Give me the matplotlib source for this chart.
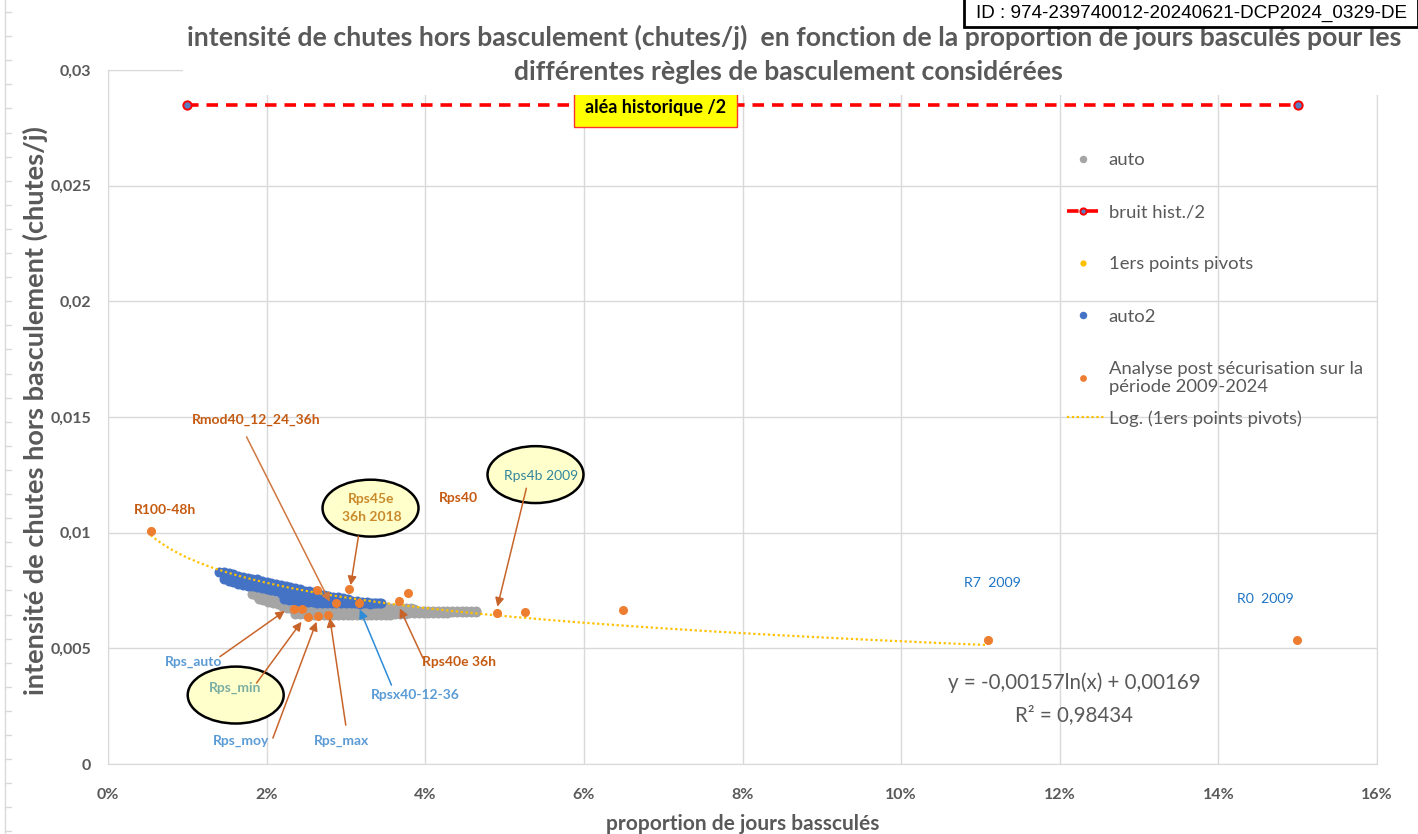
import numpy as np
import matplotlib
matplotlib.use('Agg')
import matplotlib.pyplot as plt
from matplotlib.patches import Ellipse, Rectangle
from matplotlib.lines import Line2D

plt.rcParams['font.family'] = ['Lato', 'DejaVu Sans']

# ---- data (x = proportion of days, y = chutes/j) ----
auto_x = [0.0182, 0.0188, 0.0194, 0.0200, 0.0206, 0.0212, 0.0218, 0.0224, 0.0230,
          0.0190, 0.0196, 0.0202, 0.0208, 0.0214, 0.0220, 0.0226, 0.0232,
          0.0236, 0.0242, 0.0248, 0.0254, 0.0260, 0.0266, 0.0272, 0.0278, 0.0284, 0.0290,
          0.0296, 0.0302, 0.0308, 0.0314, 0.0320, 0.0326, 0.0332, 0.0338, 0.0344, 0.0350,
          0.0236, 0.0242, 0.0248, 0.0254, 0.0260, 0.0266, 0.0272, 0.0278, 0.0284, 0.0290,
          0.0296, 0.0302, 0.0308, 0.0314, 0.0320, 0.0326, 0.0332, 0.0338, 0.0344, 0.0350, 0.0356,
          0.0346, 0.0352, 0.0358, 0.0364, 0.0370, 0.0376, 0.0382, 0.0386,
          0.0362, 0.0370, 0.0378, 0.0386,
          0.0362, 0.0368, 0.0374, 0.0380, 0.0386, 0.0392, 0.0398, 0.0404, 0.0410, 0.0416,
          0.0422, 0.0428, 0.0434, 0.0440, 0.0446, 0.0452, 0.0458, 0.0464,
          0.0392, 0.0398, 0.0404, 0.0410, 0.0416, 0.0422, 0.0428, 0.0434, 0.0440, 0.0446,
          0.0452, 0.0458, 0.0464]
auto_y = [0.00734, 0.00728, 0.00724, 0.00718, 0.00712, 0.00706, 0.00700, 0.00694, 0.00688,
          0.00712, 0.00708, 0.00702, 0.00696, 0.00690, 0.00684, 0.00676, 0.00668,
          0.00666, 0.00666, 0.00664, 0.00664, 0.00664, 0.00662, 0.00662, 0.00662, 0.00660, 0.00662,
          0.00660, 0.00660, 0.00660, 0.00658, 0.00660, 0.00658, 0.00658, 0.00658, 0.00656, 0.00658,
          0.00650, 0.00648, 0.00648, 0.00646, 0.00646, 0.00646, 0.00646, 0.00644, 0.00644, 0.00646,
          0.00644, 0.00644, 0.00644, 0.00644, 0.00644, 0.00644, 0.00644, 0.00644, 0.00644, 0.00644, 0.00646,
          0.00678, 0.00678, 0.00676, 0.00676, 0.00676, 0.00674, 0.00674, 0.00672,
          0.00664, 0.00664, 0.00664, 0.00664,
          0.00650, 0.00650, 0.00650, 0.00652, 0.00652, 0.00652, 0.00654, 0.00654, 0.00654, 0.00654,
          0.00654, 0.00654, 0.00656, 0.00656, 0.00656, 0.00656, 0.00656, 0.00656,
          0.00660, 0.00660, 0.00660, 0.00660, 0.00660, 0.00660, 0.00660, 0.00660, 0.00662, 0.00660,
          0.00660, 0.00660, 0.00660]

auto2_x = [0.0140, 0.0146, 0.0152, 0.0158, 0.0164, 0.0170, 0.0176, 0.0182, 0.0188, 0.0194,
           0.0200, 0.0206, 0.0212, 0.0218, 0.0224, 0.0230, 0.0236, 0.0242, 0.0248, 0.0254,
           0.0260, 0.0266, 0.0272, 0.0278, 0.0284, 0.0290, 0.0296, 0.0302, 0.0308, 0.0314,
           0.0320, 0.0326, 0.0332, 0.0338, 0.0344,
           0.0146, 0.0152, 0.0158, 0.0164, 0.0170, 0.0176, 0.0182, 0.0188, 0.0194, 0.0200,
           0.0206, 0.0212, 0.0218, 0.0224, 0.0230, 0.0236, 0.0242, 0.0248, 0.0254, 0.0260,
           0.0266, 0.0272, 0.0278, 0.0284,
           0.0222, 0.0228, 0.0234, 0.0240, 0.0246, 0.0252, 0.0258, 0.0264, 0.0270, 0.0276,
           0.0282, 0.0288, 0.0294, 0.0300, 0.0306, 0.0312, 0.0318, 0.0324, 0.0330, 0.0336, 0.0342]
auto2_y = [0.00830, 0.00832, 0.00826, 0.00820, 0.00812, 0.00810, 0.00806, 0.00800, 0.00798, 0.00792,
           0.00788, 0.00784, 0.00780, 0.00774, 0.00768, 0.00764, 0.00760, 0.00756, 0.00750, 0.00746,
           0.00742, 0.00736, 0.00732, 0.00728, 0.00724, 0.00720, 0.00716, 0.00712, 0.00706, 0.00704,
           0.00702, 0.00700, 0.00698, 0.00698, 0.00696,
           0.00800, 0.00792, 0.00786, 0.00776, 0.00772, 0.00770, 0.00768, 0.00766, 0.00762, 0.00758,
           0.00752, 0.00748, 0.00740, 0.00736, 0.00732, 0.00728, 0.00724, 0.00720, 0.00718, 0.00716,
           0.00712, 0.00710, 0.00706, 0.00704,
           0.00712, 0.00710, 0.00708, 0.00706, 0.00704, 0.00702, 0.00700, 0.00698, 0.00698, 0.00696,
           0.00696, 0.00694, 0.00696, 0.00694, 0.00694, 0.00694, 0.00692, 0.00694, 0.00692, 0.00694, 0.00694]

post_x = [0.0054, 0.0264, 0.0304, 0.0288, 0.0316, 0.0367, 0.0378, 0.0234, 0.0245,
          0.0252, 0.0265, 0.0278, 0.0490, 0.0526, 0.0649, 0.1109, 0.1499]
post_y = [0.01008, 0.00752, 0.00755, 0.00697, 0.00697, 0.00704, 0.00740, 0.00670, 0.00671,
          0.00634, 0.00639, 0.00642, 0.00651, 0.00658, 0.00665, 0.00536, 0.00536]

pivot_x = [0.0054, 0.0490, 0.1109]
pivot_y = [0.01008, 0.00651, 0.00536]

hist_x = [0.01, 0.15]
hist_y = [0.0285, 0.0285]

# logarithmic trend of the pivot points, as printed on the chart
log_a, log_b = -0.00157, 0.00169
log_r2 = 0.98434
log_x_range = [0.0054, 0.1109]

x_ticks = [0, 0.02, 0.04, 0.06, 0.08, 0.10, 0.12, 0.14, 0.16]
x_tick_labels = ['0%', '2%', '4%', '6%', '8%', '10%', '12%', '14%', '16%']
y_ticks = [0, 0.005, 0.01, 0.015, 0.02, 0.025, 0.03]
y_tick_labels = ['0', '0,005', '0,01', '0,015', '0,02', '0,025', '0,03']

GRAY_TXT = '#595959'
ORANGE_TXT = '#C55A11'
LBLUE_TXT = '#5B9BD5'
ARROW = '#C8642A'

W, H = 1418, 834
fig = plt.figure(figsize=(W / 100, H / 100), dpi=100)
ax = fig.add_axes([108 / W, 1 - 764 / H, (1377 - 108) / W, (764 - 70) / H])

ax.plot(auto_x, auto_y, 'o', ls='none', ms=7.2, color='#A5A5A5', mew=0, zorder=2, label='auto')
ax.plot(hist_x, hist_y, color='#FF0000', lw=2.6, dashes=(3.2, 2.2), marker='o', ms=6,
        mfc='#5A7EC2', mec='#FF0000', mew=1.4, zorder=4, label='bruit hist./2')
ax.plot(pivot_x, pivot_y, 'o', ls='none', ms=6, color='#FFC000', mew=0, zorder=3.5,
        label='1ers points pivots')
ax.plot(auto2_x, auto2_y, 'o', ls='none', ms=7.2, color='#4472C4', mew=0, zorder=3, label='auto2')
trend_x = np.linspace(log_x_range[0], log_x_range[1], 300)
trend, = ax.plot(trend_x, log_a * np.log(trend_x) + log_b, color='#FFC000', lw=1.6,
                 ls=(0, (1, 1.2)), zorder=4, label='Log. (1ers points pivots)')
ax.plot(post_x, post_y, 'o', ls='none', ms=6.5, color='#ED7D31', mew=0, zorder=5,
        label='Analyse post sécurisation sur la\npériode 2009-2024')

ax.set_xlim(0, 0.16)
ax.set_ylim(0, 0.03)
ax.set_xticks(x_ticks)
ax.set_xticklabels(x_tick_labels, fontweight='bold')
ax.set_yticks(y_ticks)
ax.set_yticklabels(y_tick_labels, fontweight='bold')
ax.tick_params(length=0, labelsize=11.5, labelcolor=GRAY_TXT)
ax.tick_params(axis='x', pad=17)
ax.tick_params(axis='y', pad=12)
ax.grid(color='#D9D9D9', lw=1)
ax.set_axisbelow(True)
for s in ax.spines.values():
    s.set_color('#D9D9D9')

ax.set_xlabel('proportion de jours bassculés', fontsize=15, fontweight='bold', color=GRAY_TXT,
              labelpad=9)
ax.set_ylabel('intensité de chutes hors basculement (chutes/j)', fontsize=19.5, fontweight='bold',
              color=GRAY_TXT)
ax.yaxis.set_label_coords(-0.047, 0.509)

# legends
h, l = ax.get_legend_handles_labels()
order = ['auto', 'bruit hist./2', '1ers points pivots', 'auto2',
         'Analyse post sécurisation sur la\npériode 2009-2024']
leg1 = ax.legend([h[l.index(o)] for o in order], order, loc='upper left',
                 bbox_to_anchor=(1067 / W, 1 - 152 / H), bbox_transform=fig.transFigure,
                 frameon=False, fontsize=13.3, labelcolor=GRAY_TXT, labelspacing=1.96,
                 handlelength=1.7, handletextpad=0.55, borderpad=0, borderaxespad=0,
                 markerscale=0.75)
ax.add_artist(leg1)
ax.legend([trend], ['Log. (1ers points pivots)'], loc='upper left',
          bbox_to_anchor=(1067 / W, 1 - 410 / H), bbox_transform=fig.transFigure,
          frameon=False, fontsize=13.3, labelcolor=GRAY_TXT, handlelength=2.0,
          handletextpad=0.3, borderpad=0, borderaxespad=0)

# ellipses behind callout texts
for cx, cy in [(0.0331, 0.01106), (0.0539, 0.01251), (0.0161, 0.00298)]:
    ax.add_patch(Ellipse((cx, cy), 0.0121, 0.00246, facecolor='#FFFFCC', edgecolor='black',
                         lw=1.8, zorder=6))

# arrows: (tail, head, colour)
arrows = [((0.01747, 0.01414), (0.02797, 0.00701), '#D07840'),
          ((0.03158, 0.00985), (0.03060, 0.00773), ARROW),
          ((0.05275, 0.01192), (0.04910, 0.00680), ARROW),
          ((0.01411, 0.00464), (0.02230, 0.00662), ARROW),
          ((0.01873, 0.00350), (0.02440, 0.00615), ARROW),
          ((0.02079, 0.00112), (0.02629, 0.00615), ARROW),
          ((0.02998, 0.00168), (0.02797, 0.00631), ARROW),
          ((0.03574, 0.00341), (0.03175, 0.00668), '#2E8BD8'),
          ((0.03972, 0.00457), (0.03679, 0.00673), ARROW)]
for tail, head, col in arrows:
    ax.annotate('', xy=head, xytext=tail, zorder=7,
                arrowprops=dict(arrowstyle='-|>', color=col, lw=1.1, mutation_scale=13,
                                shrinkA=0, shrinkB=0))

labels = [('R100-48h', 0.00724, 0.01097, ORANGE_TXT, 'bold', 10),
          ('Rmod40_12_24_36h', 0.01873, 0.01486, ORANGE_TXT, 'bold', 10),
          ('Rps45e\n36h 2018', 0.03320, 0.01106, '#C98A2C', 'bold', 10),
          ('Rps40', 0.04422, 0.01150, ORANGE_TXT, 'bold', 10),
          ('Rps4b 2009', 0.05464, 0.01244, '#31859C', 'normal', 10),
          ('Rps_auto', 0.01083, 0.00442, LBLUE_TXT, 'bold', 10),
          ('Rps_min', 0.01600, 0.00328, '#7BAEA3', 'bold', 10),
          ('Rps_moy', 0.01676, 0.00101, LBLUE_TXT, 'bold', 10),
          ('Rps_max', 0.02948, 0.00101, LBLUE_TXT, 'bold', 10),
          ('Rpsx40-12-36', 0.03880, 0.00298, LBLUE_TXT, 'bold', 10),
          ('Rps40e 36h', 0.04426, 0.00439, ORANGE_TXT, 'bold', 10),
          ('R7  2009', 0.1115, 0.00782, '#1F75C4', 'normal', 10.2),
          ('R0  2009', 0.1459, 0.00713, '#1F75C4', 'normal', 10.2)]
for txt, x, y, col, fw, fs in labels:
    ax.text(x, y, txt, color=col, fontweight=fw, fontsize=fs, ha='center', va='center',
            zorder=8, linespacing=1.6)

ax.text(0.1218, 0.0035, 'y = -0,00157ln(x) + 0,00169', fontsize=14.8, color=GRAY_TXT,
        ha='center', va='center', zorder=8)
ax.text(0.1218, 0.00212, 'R² = 0,98434', fontsize=14.8, color=GRAY_TXT,
        ha='center', va='center', zorder=8)

ax.text(0.06904, 0.02838, 'aléa historique /2', fontsize=13, fontweight='bold', color='black',
        ha='center', va='center', zorder=8,
        bbox=dict(boxstyle='square,pad=0.6', facecolor='#FFFF00', edgecolor='#FF3030', lw=1))

# white title block (hides the top of the plot frame, as in the original)
fig.add_artist(Rectangle((183 / W, 1 - 95 / H), (1412 - 183) / W, 95 / H,
                         transform=fig.transFigure, facecolor='white', edgecolor='none',
                         zorder=5))
fig.text(794 / W, 1 - 37 / H,
         'intensité de chutes hors basculement (chutes/j)  en fonction de la proportion de jours basculés pour les',
         ha='center', va='center', fontsize=19.2, fontweight='bold', color=GRAY_TXT, zorder=6)
fig.text(788 / W, 1 - 72 / H, 'différentes règles de basculement considérées',
         ha='center', va='center', fontsize=19.2, fontweight='bold', color=GRAY_TXT, zorder=6)

# document id stamp
fig.add_artist(Rectangle((964 / W, 1 - 27 / H), (W - 964) / W, 30 / H,
                         transform=fig.transFigure, facecolor='white', edgecolor='black',
                         lw=2, zorder=7))
fig.text(1191 / W, 1 - 13 / H, 'ID : 974-239740012-20240621-DCP2024_0329-DE',
         family=['Liberation Sans', 'DejaVu Sans'], fontsize=13.6, color='black',
         ha='center', va='center', zorder=8)

# faint ruler on the far left edge
fig.add_artist(Line2D([5 / W, 5 / W], [0, 1], color='#D9D9D9', lw=1, transform=fig.transFigure))
for py in np.arange(12, H, 24.1):
    fig.add_artist(Line2D([5 / W, 11 / W], [1 - py / H, 1 - py / H], color='#D9D9D9', lw=1,
                          transform=fig.transFigure))

fig.savefig('out.png', dpi=100)
